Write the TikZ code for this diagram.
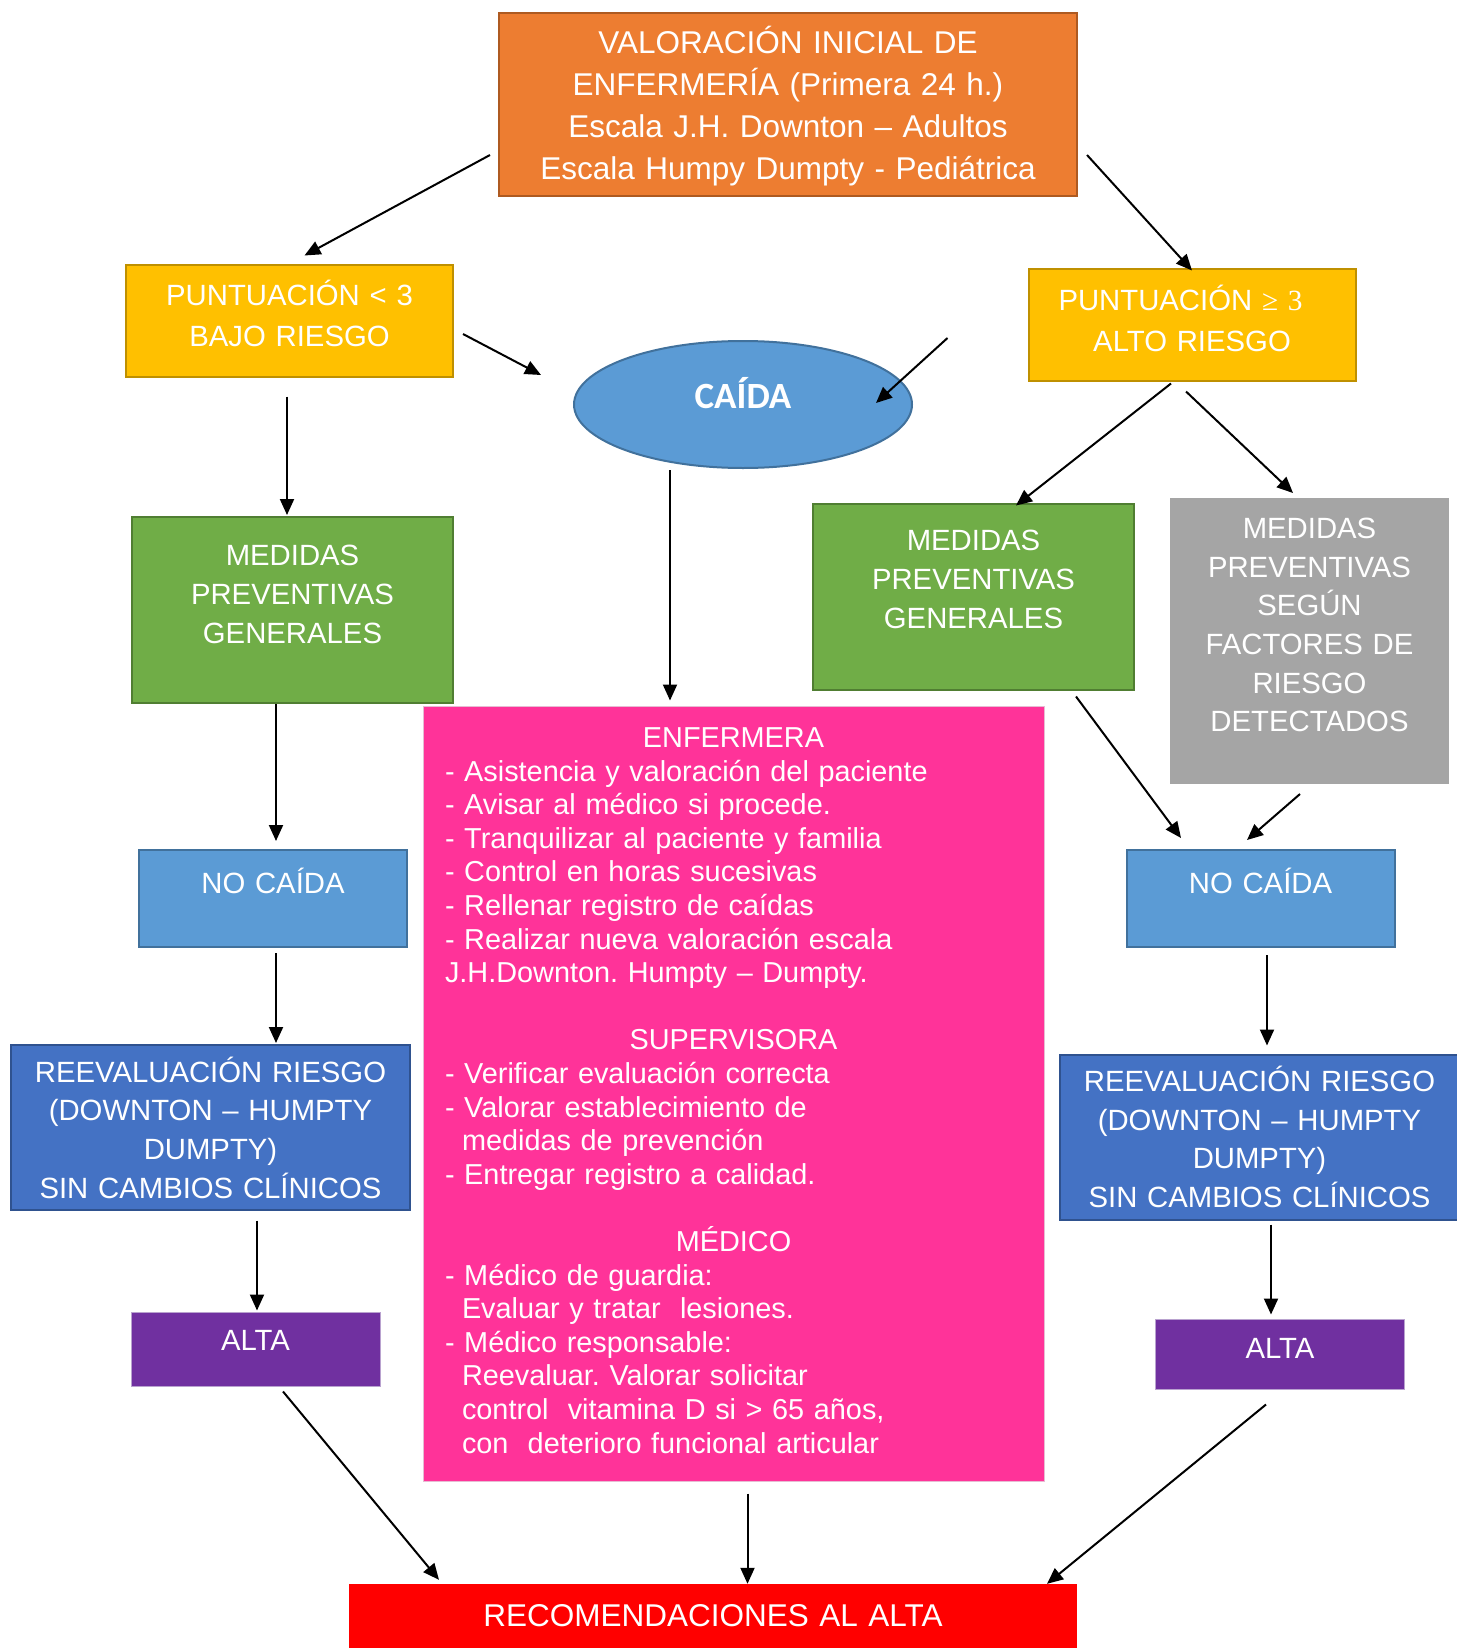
\documentclass[tikz,border=0pt]{standalone}
\usepackage{fontspec}
\setmainfont{Liberation Sans}
\newfontfamily\timesfont{Liberation Serif}
\newfontfamily\caidafont{Carlito}
\usepackage{xcolor}
\usepackage{tikz}
\usetikzlibrary{arrows.meta, shapes.geometric}
\frenchspacing

\definecolor{valorfill}{HTML}{ED7D31}
\definecolor{valordraw}{HTML}{AE5A21}
\definecolor{riskfill}{HTML}{FFC000}
\definecolor{riskdraw}{HTML}{BF9000}
\definecolor{medfill}{HTML}{70AD47}
\definecolor{meddraw}{HTML}{507E32}
\definecolor{factfill}{HTML}{A5A5A5}
\definecolor{caidafill}{HTML}{5B9BD5}
\definecolor{caidadraw}{HTML}{41719C}
\definecolor{reevfill}{HTML}{4472C4}
\definecolor{reevdraw}{HTML}{2F528F}
\definecolor{altafill}{HTML}{7030A0}
\definecolor{altadraw}{HTML}{B9A2CF}
\definecolor{actfill}{HTML}{FF3399}
\definecolor{actdraw}{HTML}{E6BCD2}
\definecolor{recfill}{HTML}{FF0000}

\newcommand{\titlefont}{\fontsize{31.5pt}{42pt}\selectfont}
\newcommand{\riskfont}{\fontsize{29.3pt}{41pt}\selectfont}
\newcommand{\boxfont}{\fontsize{29.3pt}{38.7pt}\selectfont}
\newcommand{\listfont}{\fontsize{28.85pt}{33.6pt}\selectfont}
\newcommand{\listhead}[1]{\hskip 0pt plus 1filll #1\hskip 0pt plus 1filll\null}
\newcommand{\liftby}[1]{\par\vspace*{#1}}

\begin{document}
\begin{tikzpicture}[
    x=1pt, y=-1pt,
    every node/.style={text=white, align=center, inner sep=0pt},
    % plain box, size and text width fixed per kind
    flowbox/.style={rectangle, line width=2pt, font=\boxfont},
    % pushes the text up inside its box
    lift/.style={execute at end node={\liftby{#1}}},
    valorbox/.style={flowbox, draw=valordraw, fill=valorfill, font=\titlefont,
                     minimum width=578pt, minimum height=183pt, text width=560pt},
    riskbox/.style={flowbox, draw=riskdraw, fill=riskfill, font=\riskfont,
                    minimum width=327pt, minimum height=112pt, text width=310pt},
    medbox/.style={flowbox, draw=meddraw, fill=medfill,
                   minimum width=321pt, minimum height=186pt, text width=300pt},
    factbox/.style={flowbox, fill=factfill,
                    minimum width=279pt, minimum height=286pt, text width=260pt},
    % the fall event itself
    caidabox/.style={ellipse, draw=caidadraw, fill=caidafill, line width=2pt,
                     minimum width=338pt, minimum height=127pt, text width=150pt,
                     font=\caidafont\bfseries\fontsize{37pt}{44pt}\selectfont},
    nobox/.style={flowbox, draw=caidadraw, fill=caidafill,
                  minimum width=268pt, minimum height=97pt, text width=250pt},
    reevbox/.style={flowbox, draw=reevdraw, fill=reevfill,
                    minimum width=399pt, minimum height=165pt, text width=380pt},
    altabox/.style={flowbox, draw=altadraw, fill=altafill, line width=1pt,
                    minimum width=249pt, minimum height=74pt, text width=230pt},
    % long list of actions after a fall
    actbox/.style={rectangle, draw=actdraw, fill=actfill, line width=1pt, font=\listfont,
                   align=left, minimum width=621pt, minimum height=775pt, text width=577pt},
    recbox/.style={rectangle, fill=recfill, font=\titlefont,
                   minimum width=728pt, minimum height=64pt, text width=700pt},
    arrow/.style={-{Triangle[length=16pt,width=14pt]}, line width=2pt}
]
\useasboundingbox (0,0) rectangle (1456,1648);

\node[valorbox, lift=-4pt] (valor) at (788,104.5)
  {VALORACIÓN INICIAL DE\\ENFERMERÍA (Primera 24 h.)\\Escala J.H. Downton – Adultos\\Escala Humpy Dumpty - Pediátrica};

\node[riskbox, lift=14pt] (bajo) at (289.5,320.5) {PUNTUACIÓN < 3\\BAJO RIESGO};
\node[riskbox, lift=12pt] (alto) at (1192,324.5)
  {PUNTUACIÓN {\timesfont ≥ 3}\rule{23pt}{0pt}\\ALTO RIESGO};

\node[caidabox, lift=22pt] (caida) at (743,404.5) {CAÍDA};

\node[medbox, lift=31pt] (medbajo) at (292.5,610) {MEDIDAS\\PREVENTIVAS\\GENERALES};
\node[medbox, lift=34pt] (medalto) at (973.5,596.5) {MEDIDAS\\PREVENTIVAS\\GENERALES};
\node[factbox, lift=32pt] (factores) at (1309.5,641)
  {MEDIDAS\\PREVENTIVAS\\SEGÚN\\FACTORES DE\\RIESGO\\DETECTADOS};

\node[actbox, lift=6pt] (enf) at (733.5,1093.5) {%
  \listhead{ENFERMERA}\\
  - Asistencia y valoración del paciente\\
  - Avisar al médico si procede.\\
  - Tranquilizar al paciente y familia\\
  - Control en horas sucesivas\\
  - Rellenar registro de caídas\\
  - Realizar nueva valoración escala\\
  J.H.Downton. Humpty – Dumpty.\\
  \mbox{}\\
  \listhead{SUPERVISORA}\\
  - Verificar evaluación correcta\\
  - Valorar establecimiento de\\
  \hspace*{17pt}medidas de prevención\\
  - Entregar registro a calidad.\\
  \mbox{}\\
  \listhead{MÉDICO}\\
  - Médico de guardia:\\
  \hspace*{17pt}Evaluar y tratar\ \ lesiones.\\
  - Médico responsable:\\
  \hspace*{17pt}Reevaluar. Valorar solicitar\\
  \hspace*{17pt}control\ \ vitamina D si > 65 años,\\
  \hspace*{17pt}con\ \ deterioro funcional articular};

\node[nobox, lift=36pt] (nobajo) at (273,898.5) {NO CAÍDA};
\node[nobox, lift=36pt] (noalto) at (1260.5,898.5) {NO CAÍDA};

\node[reevbox] (reevbajo) at (210.5,1127.5)
  {REEVALUACIÓN RIESGO\\(DOWNTON – HUMPTY\\DUMPTY)\\SIN CAMBIOS CLÍNICOS};
\node[reevbox] (reevalto) at (1259.5,1137)
  {REEVALUACIÓN RIESGO\\(DOWNTON – HUMPTY\\DUMPTY)\\SIN CAMBIOS CLÍNICOS};

\node[altabox, lift=18pt] (altabajo) at (255.5,1349) {ALTA};
\node[altabox, lift=12pt, minimum height=70pt] (altaalto) at (1280,1354) {ALTA};

\node[recbox] (recom) at (713,1616) {RECOMENDACIONES AL ALTA};

% first assessment splits by score
\draw[arrow] ([xshift=-8pt,yshift=-50.5pt]valor.west) -- ([xshift=15pt,yshift=8pt]bajo.north);
\draw[arrow] ([xshift=9pt,yshift=-50.5pt]valor.east) -- ([yshift=-3pt]alto.north);
\draw[arrow] ([xshift=9pt,yshift=-13.5pt]bajo.east) -- ([xshift=-32pt,yshift=29.5pt]caida.west);
\draw[arrow] ([xshift=-80pt,yshift=-13.5pt]alto.west) -- ([xshift=-37pt,yshift=1.5pt]caida.east);

% low risk branch
\draw[arrow] ([xshift=-2.5pt,yshift=-19pt]bajo.south) -- ([xshift=-5.5pt,yshift=1pt]medbajo.north);
\draw[arrow] ([xshift=-16.5pt]medbajo.south) -- ([xshift=3pt,yshift=8pt]nobajo.north);
\draw[arrow] ([xshift=3pt,yshift=-5pt]nobajo.south) -- ([xshift=65.5pt,yshift=1pt]reevbajo.north);
\draw[arrow] ([xshift=46.5pt,yshift=-9.5pt]reevbajo.south) -- ([xshift=1.5pt,yshift=1pt]altabajo.north);
\draw[arrow] ([xshift=27.5pt,yshift=-5pt]altabajo.south) -- ([xshift=-274pt,yshift=4pt]recom.north);

% fall
\draw[arrow] ([xshift=-73pt,yshift=-1pt]caida.south) -- ([xshift=-63.5pt,yshift=5pt]enf.north);
\draw[arrow] ([xshift=14pt,yshift=-12pt]enf.south) -- ([xshift=34.5pt]recom.north);

% high risk branch
\draw[arrow] ([xshift=-21pt,yshift=-2pt]alto.south) -- ([xshift=42.5pt,yshift=-3pt]medalto.north);
\draw[arrow] ([xshift=-6pt,yshift=-10pt]alto.south) -- ([xshift=-16.5pt,yshift=4pt]factores.north);
\draw[arrow] ([xshift=102.5pt,yshift=-6pt]medalto.south) -- ([xshift=-79.5pt,yshift=11pt]noalto.north);
\draw[arrow] ([xshift=-9.5pt,yshift=-9pt]factores.south) -- ([xshift=-13.5pt,yshift=9pt]noalto.north);
\draw[arrow] ([xshift=6.5pt,yshift=-7pt]noalto.south) -- ([xshift=7.5pt,yshift=8pt]reevalto.north);
\draw[arrow] ([xshift=11.5pt,yshift=-4pt]reevalto.south) -- ([xshift=-9pt,yshift=4pt]altaalto.north);
\draw[arrow] ([xshift=-14pt,yshift=-15pt]altaalto.south) -- ([xshift=334pt]recom.north);

\end{tikzpicture}
\end{document}
